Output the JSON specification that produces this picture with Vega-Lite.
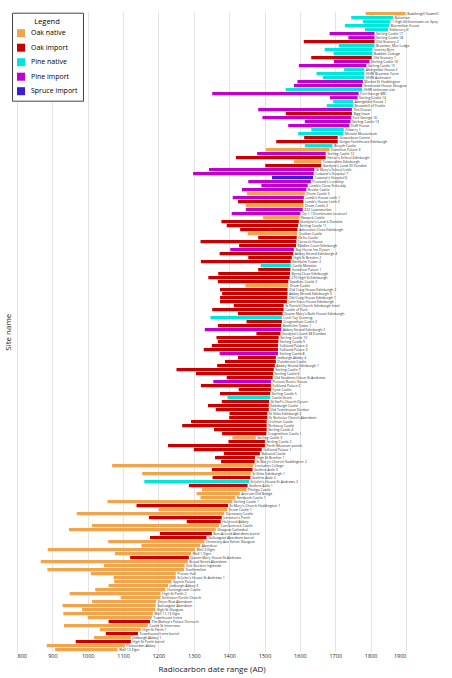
{
  "$schema": "https://vega.github.io/schema/vega-lite/v6.json",
  "width": 389,
  "height": 640,
  "autosize": {"type": "none"},
  "padding": {"left": 17, "top": 11.7, "right": 46, "bottom": 26.3},
  "config": {
    "font": "Open Sans",
    "view": {"stroke": null},
    "axis": {"titleFontWeight": "normal", "titleColor": "#222", "labelColor": "#222"},
    "axisX": {
      "labelOverlap": false,
      "grid": true,
      "gridColor": "#e4e4e4",
      "gridWidth": 1,
      "ticks": false,
      "domain": false,
      "labelFontSize": 5.5,
      "labelPadding": 2,
      "titleFontSize": 8,
      "titlePadding": 6
    }
  },
  "data": {
    "values": [
      {"site": "Baddinsgill Sawmill", "start": 1786, "end": 1899, "type": "Oak native"},
      {"site": "Balvattan", "start": 1745, "end": 1863, "type": "Pine native"},
      {"site": "1 High St Grantown-on-Spey", "start": 1778, "end": 1856, "type": "Pine native"},
      {"site": "Blairmillan House", "start": 1727, "end": 1852, "type": "Pine native"},
      {"site": "Kilderorry 4", "start": 1784, "end": 1849, "type": "Pine native"},
      {"site": "Stirling Castle 17", "start": 1684, "end": 1811, "type": "Pine import"},
      {"site": "Stirling Castle 18", "start": 1737, "end": 1811, "type": "Pine import"},
      {"site": "Old Granary 2", "start": 1611, "end": 1811, "type": "Oak import"},
      {"site": "Braemar, Mar Lodge", "start": 1710, "end": 1811, "type": "Pine native"},
      {"site": "Inverey Byre", "start": 1670, "end": 1805, "type": "Pine native"},
      {"site": "Badden Cottage", "start": 1695, "end": 1805, "type": "Pine native"},
      {"site": "Old Granary 1", "start": 1632, "end": 1803, "type": "Oak import"},
      {"site": "Stirling Castle 16", "start": 1696, "end": 1797, "type": "Pine import"},
      {"site": "Stirling Castle 15", "start": 1597, "end": 1788, "type": "Pine import"},
      {"site": "Abergeldie House 2", "start": 1725, "end": 1782, "type": "Pine native"},
      {"site": "HHW Braemar Farm", "start": 1647, "end": 1782, "type": "Pine native"},
      {"site": "HHW Aultnabin", "start": 1665, "end": 1782, "type": "Pine native"},
      {"site": "Market St Haddington", "start": 1593, "end": 1778, "type": "Pine import"},
      {"site": "Greenside House Glasgow", "start": 1583, "end": 1776, "type": "Pine import"},
      {"site": "HHW unknown site", "start": 1560, "end": 1776, "type": "Pine native"},
      {"site": "Fort George 8RC", "start": 1352, "end": 1766, "type": "Pine import"},
      {"site": "Stirling Castle 14", "start": 1685, "end": 1763, "type": "Pine import"},
      {"site": "Abergeldie House 1", "start": 1694, "end": 1750, "type": "Pine native"},
      {"site": "Brownhill of Fowlis", "start": 1676, "end": 1750, "type": "Pine native"},
      {"site": "The Douse", "start": 1482, "end": 1747, "type": "Pine import"},
      {"site": "Bigg Issue", "start": 1560, "end": 1747, "type": "Oak import"},
      {"site": "Fort George 16", "start": 1494, "end": 1745, "type": "Pine import"},
      {"site": "Stirling Castle 13", "start": 1614, "end": 1743, "type": "Pine import"},
      {"site": "Duff House", "start": 1567, "end": 1740, "type": "Pine import"},
      {"site": "Kilberry 1", "start": 1632, "end": 1724, "type": "Pine native"},
      {"site": "Monzie Mausoleum", "start": 1595, "end": 1723, "type": "Pine native"},
      {"site": "Gowanbrae Centre", "start": 1612, "end": 1707, "type": "Oak import"},
      {"site": "Gorgie Farmhouse Edinburgh", "start": 1533, "end": 1707, "type": "Oak import"},
      {"site": "Rosyth Castle", "start": 1614, "end": 1692, "type": "Pine native"},
      {"site": "Hamilton Palace 3", "start": 1504, "end": 1684, "type": "Oak native"},
      {"site": "Stirling Castle 12", "start": 1479, "end": 1673, "type": "Pine import"},
      {"site": "Heriot's School Edinburgh", "start": 1419, "end": 1673, "type": "Oak import"},
      {"site": "Torwoodlee Edinburgh", "start": 1583, "end": 1660, "type": "Oak native"},
      {"site": "Gardyne's Land 33 Dundee", "start": 1502, "end": 1660, "type": "Oak import"},
      {"site": "St Mary's School Leith", "start": 1343, "end": 1641, "type": "Pine import"},
      {"site": "Cowane's Hospital 7", "start": 1298, "end": 1639, "type": "Pine import"},
      {"site": "Cowane's Hospital 6", "start": 1521, "end": 1637, "type": "Spruce import"},
      {"site": "Provand's Lordship", "start": 1454, "end": 1631, "type": "Pine import"},
      {"site": "Lamb's Close Kirkcaldy", "start": 1491, "end": 1622, "type": "Pine import"},
      {"site": "Brodie Castle", "start": 1436, "end": 1618, "type": "Pine import"},
      {"site": "Drum Castle 3", "start": 1450, "end": 1614, "type": "Oak native"},
      {"site": "Lamb's House Leith 1", "start": 1410, "end": 1611, "type": "Pine import"},
      {"site": "Lamb's House Leith 2", "start": 1425, "end": 1610, "type": "Oak import"},
      {"site": "Drum Castle 2", "start": 1447, "end": 1610, "type": "Oak native"},
      {"site": "322 Lawnmarket", "start": 1447, "end": 1608, "type": "Pine import"},
      {"site": "Op 1-13 (unknown location)", "start": 1407, "end": 1601, "type": "Pine import"},
      {"site": "Newark Castle", "start": 1496, "end": 1599, "type": "Oak native"},
      {"site": "Gardyne's Land 4 Dundee", "start": 1378, "end": 1597, "type": "Oak import"},
      {"site": "Stirling Castle 11", "start": 1393, "end": 1595, "type": "Oak import"},
      {"site": "Advocates Close Edinburgh", "start": 1431, "end": 1593, "type": "Oak import"},
      {"site": "Crathes Castle", "start": 1453, "end": 1592, "type": "Oak native"},
      {"site": "Elcho Castle", "start": 1482, "end": 1591, "type": "Oak import"},
      {"site": "Carnock House", "start": 1319, "end": 1590, "type": "Oak import"},
      {"site": "Riddles Court Edinburgh", "start": 1428, "end": 1589, "type": "Oak import"},
      {"site": "Bay Horse Inn Dysart", "start": 1403, "end": 1583, "type": "Pine import"},
      {"site": "Abbey Strand Edinburgh 4", "start": 1373, "end": 1581, "type": "Oak import"},
      {"site": "High St Brechin 2", "start": 1454, "end": 1577, "type": "Oak import"},
      {"site": "Benholm Tower 2", "start": 1320, "end": 1574, "type": "Oak import"},
      {"site": "Castle Menzies", "start": 1489, "end": 1574, "type": "Pine native"},
      {"site": "Hamilton Palace 1", "start": 1482, "end": 1573, "type": "Oak import"},
      {"site": "Byres Close Edinburgh", "start": 1369, "end": 1572, "type": "Oak import"},
      {"site": "270 High St Edinburgh", "start": 1341, "end": 1571, "type": "Oak import"},
      {"site": "Spedlins Castle 2", "start": 1368, "end": 1567, "type": "Oak import"},
      {"site": "Drum Castle", "start": 1446, "end": 1567, "type": "Oak native"},
      {"site": "Old Craig House Edinburgh 2", "start": 1374, "end": 1565, "type": "Oak import"},
      {"site": "Abbey Strand Edinburgh 3", "start": 1380, "end": 1565, "type": "Oak import"},
      {"site": "Old Craig House Edinburgh 1", "start": 1374, "end": 1564, "type": "Oak import"},
      {"site": "John Knox House Edinburgh", "start": 1374, "end": 1563, "type": "Oak import"},
      {"site": "St Patrick Church Edinburgh lintel", "start": 1413, "end": 1554, "type": "Oak import"},
      {"site": "Castle of Park", "start": 1352, "end": 1554, "type": "Oak import"},
      {"site": "Queen Mary's Bath House Edinburgh", "start": 1425, "end": 1551, "type": "Oak import"},
      {"site": "Loch Tay Crannog", "start": 1347, "end": 1549, "type": "Pine native"},
      {"site": "Craignethan Castle 2", "start": 1449, "end": 1549, "type": "Oak import"},
      {"site": "Benholm Tower 1", "start": 1368, "end": 1547, "type": "Oak import"},
      {"site": "Abbey Strand Edinburgh 2", "start": 1331, "end": 1547, "type": "Pine import"},
      {"site": "Gardyne's Land 38 Dundee", "start": 1477, "end": 1545, "type": "Oak import"},
      {"site": "Stirling Castle 10", "start": 1364, "end": 1540, "type": "Oak import"},
      {"site": "Stirling Castle 9", "start": 1368, "end": 1539, "type": "Oak import"},
      {"site": "Falkland Palace 4", "start": 1351, "end": 1538, "type": "Oak import"},
      {"site": "Falkland Palace 3", "start": 1328, "end": 1538, "type": "Oak import"},
      {"site": "Stirling Castle 8", "start": 1373, "end": 1538, "type": "Pine import"},
      {"site": "Jedburgh Abbey 4", "start": 1425, "end": 1532, "type": "Oak import"},
      {"site": "Dunderave Castle", "start": 1388, "end": 1532, "type": "Oak import"},
      {"site": "Abbey Strand Edinburgh 1", "start": 1366, "end": 1529, "type": "Oak import"},
      {"site": "Stirling Castle 7", "start": 1251, "end": 1526, "type": "Oak import"},
      {"site": "Stirling Castle 6", "start": 1306, "end": 1524, "type": "Oak import"},
      {"site": "Old Students Union St Andrews", "start": 1393, "end": 1523, "type": "Oak import"},
      {"site": "Provost Ross's House", "start": 1355, "end": 1518, "type": "Pine import"},
      {"site": "Falkland Palace 2", "start": 1320, "end": 1518, "type": "Oak import"},
      {"site": "Fyvie Castle", "start": 1427, "end": 1518, "type": "Oak import"},
      {"site": "Stirling Castle 5", "start": 1374, "end": 1516, "type": "Oak import"},
      {"site": "Castle Grant", "start": 1395, "end": 1516, "type": "Pine native"},
      {"site": "St Serf's Church Dysart", "start": 1379, "end": 1513, "type": "Oak import"},
      {"site": "Edinburgh Castle", "start": 1340, "end": 1512, "type": "Oak import"},
      {"site": "Old Townhouse Dunbar", "start": 1362, "end": 1512, "type": "Oak import"},
      {"site": "St Giles Edinburgh 2", "start": 1401, "end": 1508, "type": "Oak import"},
      {"site": "St Nicholas Church Aberdeen", "start": 1400, "end": 1508, "type": "Oak import"},
      {"site": "Crichton Castle", "start": 1292, "end": 1506, "type": "Oak import"},
      {"site": "Rothesay Castle", "start": 1267, "end": 1506, "type": "Oak import"},
      {"site": "Stirling Castle 4", "start": 1357, "end": 1506, "type": "Oak import"},
      {"site": "Craignethan Castle 1", "start": 1380, "end": 1505, "type": "Oak import"},
      {"site": "Stirling Castle 3", "start": 1409, "end": 1475, "type": "Oak native"},
      {"site": "Stirling Castle 2", "start": 1398, "end": 1501, "type": "Oak import"},
      {"site": "Perth Museum panels", "start": 1227, "end": 1501, "type": "Oak import"},
      {"site": "Falkland Palace 1", "start": 1300, "end": 1492, "type": "Oak import"},
      {"site": "Balvaird Castle", "start": 1385, "end": 1487, "type": "Oak import"},
      {"site": "High St Brechin 1", "start": 1360, "end": 1473, "type": "Oak import"},
      {"site": "St Mary's Church Haddington 2", "start": 1377, "end": 1472, "type": "Oak import"},
      {"site": "Lincluden College", "start": 1069, "end": 1468, "type": "Oak native"},
      {"site": "Guthrie Aisle 3", "start": 1351, "end": 1466, "type": "Oak import"},
      {"site": "St Giles Edinburgh 1", "start": 1154, "end": 1461, "type": "Oak native"},
      {"site": "Guthrie Aisle 2", "start": 1353, "end": 1460, "type": "Oak import"},
      {"site": "St John's House St Andrews 2", "start": 1160, "end": 1456, "type": "Pine native"},
      {"site": "Guthrie Aisle 1", "start": 1286, "end": 1452, "type": "Oak import"},
      {"site": "Pitsligo Castle", "start": 1323, "end": 1449, "type": "Oak native"},
      {"site": "Ancrum Old Bridge", "start": 1308, "end": 1430, "type": "Oak native"},
      {"site": "Neidpath Castle 1", "start": 1319, "end": 1417, "type": "Oak native"},
      {"site": "Stirling Castle 1", "start": 1056, "end": 1409, "type": "Oak native"},
      {"site": "St Mary's Church Haddington 1", "start": 1138, "end": 1397, "type": "Oak import"},
      {"site": "Drum Castle 1", "start": 1201, "end": 1394, "type": "Oak native"},
      {"site": "Darnaway Castle", "start": 969, "end": 1386, "type": "Oak native"},
      {"site": "Johnston's Perth", "start": 1173, "end": 1379, "type": "Oak import"},
      {"site": "Holyrood Abbey", "start": 1280, "end": 1376, "type": "Oak import"},
      {"site": "Caerlaverock Castle", "start": 1012, "end": 1371, "type": "Oak native"},
      {"site": "Glasgow Cathedral", "start": 947, "end": 1362, "type": "Oak native"},
      {"site": "Bon Accord Aberdeen barrel", "start": 1204, "end": 1351, "type": "Oak import"},
      {"site": "Gallowgate Aberdeen barrel", "start": 1176, "end": 1336, "type": "Oak import"},
      {"site": "University Ave Kelvin Glasgow", "start": 1058, "end": 1330, "type": "Oak native"},
      {"site": "Aberdour", "start": 1152, "end": 1318, "type": "Oak native"},
      {"site": "Well 3 Elgin", "start": 887, "end": 1303, "type": "Oak native"},
      {"site": "Well 1 Elgin", "start": 1077, "end": 1292, "type": "Oak native"},
      {"site": "Queen Mary House St Andrews", "start": 1120, "end": 1286, "type": "Oak import"},
      {"site": "Broad Street Aberdeen", "start": 867, "end": 1283, "type": "Oak native"},
      {"site": "Kirk Gordon Ingleside", "start": 1046, "end": 1274, "type": "Oak native"},
      {"site": "Dunfermline", "start": 886, "end": 1272, "type": "Oak native"},
      {"site": "Provan Hall", "start": 1009, "end": 1249, "type": "Oak native"},
      {"site": "St John's House St Andrews 1", "start": 1073, "end": 1249, "type": "Oak native"},
      {"site": "Spynie Palace", "start": 1075, "end": 1237, "type": "Oak native"},
      {"site": "Jedburgh Abbey 3", "start": 1059, "end": 1227, "type": "Oak native"},
      {"site": "Huntingtower Castle", "start": 1021, "end": 1220, "type": "Oak native"},
      {"site": "High St Perth 2", "start": 949, "end": 1206, "type": "Oak native"},
      {"site": "Kirkliston Parish Church", "start": 1093, "end": 1206, "type": "Oak native"},
      {"site": "Union Row Aberdeen", "start": 1012, "end": 1193, "type": "Oak native"},
      {"site": "Gallowgate Aberdeen", "start": 929, "end": 1192, "type": "Oak native"},
      {"site": "High St Glasgow", "start": 984, "end": 1191, "type": "Oak native"},
      {"site": "Well 11-13 Elgin", "start": 931, "end": 1184, "type": "Oak native"},
      {"site": "Townhouse Irvine", "start": 1000, "end": 1181, "type": "Oak native"},
      {"site": "The Bishop's Palace Dornoch", "start": 1059, "end": 1176, "type": "Oak import"},
      {"site": "Castle St Inverness", "start": 933, "end": 1170, "type": "Oak native"},
      {"site": "High St Perth 1", "start": 1034, "end": 1150, "type": "Oak native"},
      {"site": "Townhouse Irvine barrel", "start": 1051, "end": 1142, "type": "Oak import"},
      {"site": "Jedburgh Abbey 1", "start": 1018, "end": 1122, "type": "Oak native"},
      {"site": "High St Perth barrel", "start": 966, "end": 1122, "type": "Oak import"},
      {"site": "Pluscarden Abbey", "start": 884, "end": 1105, "type": "Oak native"},
      {"site": "Well 12 Elgin", "start": 908, "end": 1084, "type": "Oak native"}
    ]
  },
  "encoding": {
    "y": {
      "field": "site",
      "type": "nominal",
      "sort": null,
      "scale": {"paddingInner": 0.2, "paddingOuter": 0.1},
      "axis": {
        "labels": false,
        "ticks": false,
        "domain": false,
        "grid": false,
        "title": "Site name",
        "titleFontSize": 8,
        "titlePadding": 5
      }
    }
  },
  "layer": [
    {
      "mark": {"type": "bar"},
      "encoding": {
        "x": {
          "field": "start",
          "type": "quantitative",
          "scale": {"domain": [800, 1900], "nice": false, "zero": false},
          "axis": {
            "values": [800, 900, 1000, 1100, 1200, 1300, 1400, 1500, 1600, 1700, 1800, 1900],
            "format": "d",
            "title": "Radiocarbon date range (AD)"
          }
        },
        "x2": {"field": "end"},
        "color": {
          "field": "type",
          "type": "nominal",
          "scale": {
            "domain": ["Oak native", "Oak import", "Pine native", "Pine import", "Spruce import"],
            "range": ["#f0a44c", "#c80000", "#00e6dc", "#c000cc", "#3a1ed8"]
          },
          "legend": {
            "orient": "none",
            "legendX": -5,
            "legendY": 1,
            "title": "Legend",
            "titleFontSize": 7.5,
            "titleFontWeight": "normal",
            "titleAnchor": "middle",
            "titlePadding": 4,
            "labelFontSize": 7,
            "labelOffset": 6,
            "symbolType": "square",
            "symbolSize": 64,
            "symbolStrokeWidth": 0,
            "symbolOpacity": 1,
            "rowPadding": 6.5,
            "padding": 5,
            "strokeColor": "#444",
            "fillColor": "white"
          }
        }
      }
    },
    {
      "mark": {"type": "text", "align": "left", "baseline": "middle", "dx": 1.5, "fontSize": 3.5, "color": "#333"},
      "encoding": {
        "x": {
          "field": "end",
          "type": "quantitative",
          "axis": {
            "values": [800, 900, 1000, 1100, 1200, 1300, 1400, 1500, 1600, 1700, 1800, 1900],
            "format": "d",
            "title": "Radiocarbon date range (AD)"
          }
        },
        "text": {"field": "site"}
      }
    }
  ]
}
